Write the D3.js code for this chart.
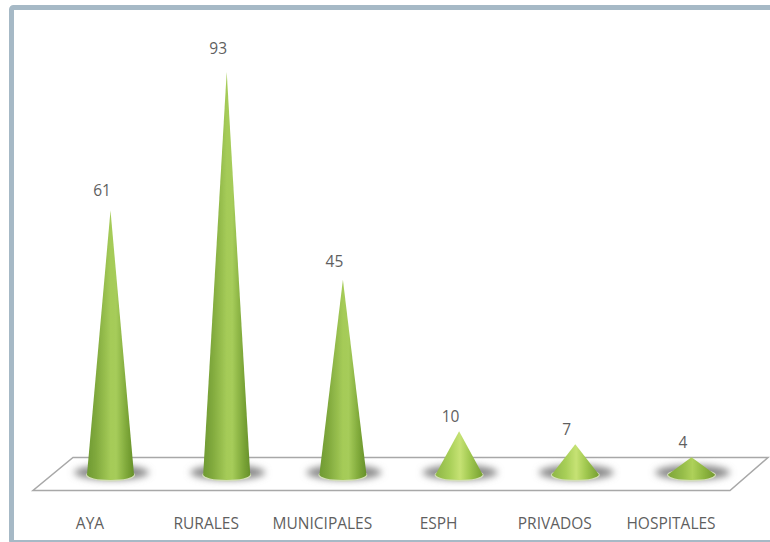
<!DOCTYPE html>
<html>
<head>
<meta charset="utf-8">
<script src="https://cdn.jsdelivr.net/npm/d3@7"></script>
<style>
html,body{margin:0;padding:0;background:#fff;overflow:hidden}
svg{display:block}
text{font-family:"Open Sans","Noto Sans",sans-serif;fill:#5f5f5f}
</style>
</head>
<body>
<svg id="chart" width="770" height="542"></svg>
<script>
const categories = ["AYA","RURALES","MUNICIPALES","ESPH","PRIVADOS","HOSPITALES"];
const values = [61,93,45,10,7,4];

const W = 770;
const svg = d3.select("#chart");
const defs = svg.append("defs");

// Horizontal shading across a cone; short cones read brighter in the middle
function shade(id, stops){
  const g = defs.append("linearGradient").attr("id",id)
    .attr("x1","0%").attr("x2","100%").attr("y1","0%").attr("y2","0%");
  stops.forEach(([o,c])=>g.append("stop").attr("offset",o).attr("stop-color",c));
}
shade("coneTall",[[0,"#6f9a33"],[0.18,"#7fa83c"],[0.5,"#a5cb58"],[0.62,"#a6cc5a"],[0.86,"#7ba537"],[1,"#66902a"]]);
shade("coneMid",[[0,"#8eb647"],[0.3,"#a8cf58"],[0.52,"#c6e274"],[0.72,"#a2c951"],[1,"#76a031"]]);
shade("coneLow",[[0,"#7fa63a"],[0.3,"#95bc49"],[0.52,"#aed15a"],[0.75,"#90b842"],[1,"#74992e"]]);
const coneFill = v => v > 10 ? "url(#coneTall)" : v > 4 ? "url(#coneMid)" : "url(#coneLow)";

defs.append("filter").attr("id","soft").attr("x","-30%").attr("y","-100%").attr("width","160%").attr("height","300%")
  .append("feGaussianBlur").attr("stdDeviation",3.5);
defs.append("filter").attr("id","edge").attr("x","-10%").attr("y","-10%").attr("width","120%").attr("height","120%")
  .append("feGaussianBlur").attr("stdDeviation",0.5);

// Outer frame, open past the right edge of the page
svg.append("rect").attr("x",11.5).attr("y",7.5).attr("width",W+20).attr("height",535)
  .attr("rx",2).attr("fill","#fff").attr("stroke","#a6b9c6").attr("stroke-width",5);

const x = d3.scalePoint().domain(categories).range([110.5,691.5]);
const y = d3.scaleLinear().domain([0,93]).range([474.5,72]);

// Floor plane under the cones
const floor = d3.line()([[73,457.5],[768,457.5],[730,490.5],[33,490.5]]);
svg.append("path").attr("d",floor+"Z").attr("fill","#fff").attr("stroke","#a8a8a8")
  .attr("stroke-width",1.5).attr("filter","url(#edge)");

const rx = 23.5, ry = 5.5;
const cones = svg.selectAll("g.cone").data(categories.map((c,i)=>({c,v:values[i]}))).join("g").attr("class","cone");

// Contact shadow spreading either side of the base
cones.append("ellipse").attr("cx",d=>x(d.c)+1).attr("cy",y(0)-2).attr("rx",rx+14).attr("ry",ry+2)
  .attr("fill","#8a8a8a").attr("filter","url(#soft)");
// Pale rim around the base
cones.append("ellipse").attr("cx",d=>x(d.c)).attr("cy",y(0)+0.5).attr("rx",rx+1).attr("ry",ry+1)
  .attr("fill","#d3deb9").attr("filter","url(#edge)");

// Cone body: straight sides meeting at the apex, rounded base
cones.append("path")
  .attr("d",d=>{
    const cx=x(d.c), b=y(0), t=y(d.v);
    return `M${cx-rx},${b} L${cx},${t} L${cx+rx},${b} A${rx},${ry} 0 0 1 ${cx-rx},${b} Z`;
  })
  .attr("fill",d=>coneFill(d.v))
  .attr("filter","url(#edge)");

// Value above each apex, set a little to the left
cones.append("text").attr("x",d=>x(d.c)-8.5).attr("y",d=>y(d.v)-(8.5+d.v*0.105))
  .attr("text-anchor","middle").attr("font-size",15.5).text(d=>d.v);

// Category names below the floor, also shifted left of the cones
cones.append("text").attr("x",d=>x(d.c)-20.5).attr("y",529)
  .attr("text-anchor","middle").attr("font-size",15.5).text(d=>d.c);
</script>
</body>
</html>
